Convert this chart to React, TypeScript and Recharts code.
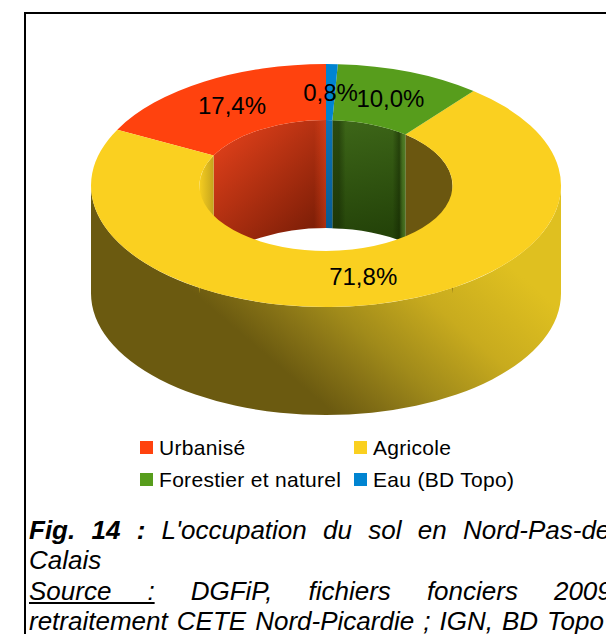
import { Legend, Pie, PieChart } from "recharts";

const categories = ["Urbanisé", "Agricole", "Forestier et naturel", "Eau (BD Topo)"];
const shares = [17.4, 71.8, 10.0, 0.8];
const topColors = ["#ff420e", "#fad020", "#579d1c", "#0084d1"];
const innerWallFills = ["url(#wallRed)", "url(#wallYellowIn)", "url(#wallGreen)", "url(#wallBlue)"];
const innerWallEdges = ["url(#edgeRed)", "none", "url(#edgeGreen)", "none"];

const chartData = categories.map((name, i) => ({ name, value: shares[i] }));

const CX = 326;
const CY = 185.5;
const OUTER = 235;
const INNER = 126.5;
const SQUASH = 0.517;
const DEPTH = 108;
const FONT = "'Liberation Sans', Arial, sans-serif";

const rad = (deg: number) => (deg * Math.PI) / 180;
const ptX = (r: number, a: number) => CX + r * Math.cos(rad(a));
const ptY = (r: number, a: number, dy = 0) => CY + dy - SQUASH * r * Math.sin(rad(a));

// band between two elliptical arcs, a1 < a2, counter clockwise on screen
function arcTo(r: number, from: number, to: number, dy = 0) {
  const large = Math.abs(to - from) > 180 ? 1 : 0;
  const sweep = to > from ? 0 : 1;
  return `A ${r} ${r * SQUASH} 0 ${large} ${sweep} ${ptX(r, to)} ${ptY(r, to, dy)}`;
}

function wallPath(r: number, a1: number, a2: number) {
  return [
    `M ${ptX(r, a1)} ${ptY(r, a1)}`,
    arcTo(r, a1, a2),
    `L ${ptX(r, a2)} ${ptY(r, a2, DEPTH)}`,
    arcTo(r, a2, a1, DEPTH),
    "Z",
  ].join(" ");
}

function overlap(a1: number, a2: number, lo: number, hi: number): [number, number][] {
  const out: [number, number][] = [];
  for (const shift of [-360, 0, 360]) {
    const s = Math.max(a1, lo + shift);
    const e = Math.min(a2, hi + shift);
    if (e > s) out.push([s, e]);
  }
  return out;
}

function WallShape(props: any) {
  const { startAngle, endAngle, name } = props;
  const a1 = Math.min(startAngle, endAngle);
  const a2 = Math.max(startAngle, endAngle);
  const idx = categories.indexOf(name);
  return (
    <g>
      {overlap(a1, a2, 180, 360).map(([s, e]) => (
        <path key={`o${s}`} d={wallPath(OUTER, s, e)} fill="url(#wallYellowOut)" />
      ))}
      {overlap(a1, a2, 0, 180).map(([s, e]) => (
        <g key={`i${s}`}>
          <path d={wallPath(INNER, s, e)} fill={innerWallFills[idx]} />
          <path d={wallPath(INNER, s, e)} fill={innerWallEdges[idx]} />
        </g>
      ))}
    </g>
  );
}

function TopShape(props: any) {
  const { startAngle, endAngle, name } = props;
  const a1 = Math.min(startAngle, endAngle);
  const a2 = Math.max(startAngle, endAngle);
  const d = [
    `M ${ptX(OUTER, a1)} ${ptY(OUTER, a1)}`,
    arcTo(OUTER, a1, a2),
    `L ${ptX(INNER, a2)} ${ptY(INNER, a2)}`,
    arcTo(INNER, a2, a1),
    "Z",
  ].join(" ");
  return <path d={d} fill={topColors[categories.indexOf(name)]} />;
}

function renderLabel(props: any) {
  const { midAngle, value } = props;
  const r = (OUTER + INNER) / 2;
  return (
    <text
      x={ptX(r, midAngle)}
      y={ptY(r, midAngle)}
      textAnchor="middle"
      dominantBaseline="central"
      fontFamily={FONT}
      fontSize={24}
      fill="#000"
    >
      {`${value.toFixed(1).replace(".", ",")}%`}
    </text>
  );
}

function renderLegend() {
  return (
    <div
      style={{
        position: "absolute",
        left: 140,
        top: 432,
        display: "grid",
        gridTemplateColumns: "214px auto",
        rowGap: 0,
        fontFamily: FONT,
        fontSize: 21,
        letterSpacing: 0.3,
        lineHeight: "31.5px",
        color: "#000",
      }}
    >
      {categories.map((name, i) => (
        <div key={name} style={{ display: "flex", alignItems: "center", whiteSpace: "nowrap" }}>
          <span
            style={{
              width: 13,
              height: 13,
              marginRight: 6,
              background: topColors[i],
              display: "inline-block",
            }}
          />
          {name}
        </div>
      ))}
    </div>
  );
}

const captionLine = {
  position: "absolute" as const,
  left: 29,
  width: 590,
  fontFamily: FONT,
  fontStyle: "italic",
  fontSize: 26,
  lineHeight: "30px",
  whiteSpace: "nowrap" as const,
  textAlign: "justify" as const,
  textAlignLast: "justify" as const,
  color: "#000",
};

export default function App() {
  return (
    <div
      style={{
        position: "absolute",
        left: 0,
        top: 0,
        width: 606,
        height: 634,
        overflow: "hidden",
        background: "#fff",
      }}
    >
      <div style={{ position: "absolute", left: 24, top: 12, right: 0, height: 2, background: "#000" }} />
      <div style={{ position: "absolute", left: 24, top: 12, bottom: 0, width: 1.5, background: "#000" }} />

      <PieChart width={606} height={634} style={{ position: "absolute", left: 0, top: 0 }}>
        <defs>
          <linearGradient id="wallYellowOut" gradientUnits="userSpaceOnUse" x1={260} y1={350} x2={407} y2={178}>
            <stop offset="0" stopColor="#6b5a10" />
            <stop offset="0.18" stopColor="#867216" />
            <stop offset="0.35" stopColor="#a08a1a" />
            <stop offset="0.65" stopColor="#c8ab1e" />
            <stop offset="1" stopColor="#dfc020" />
          </linearGradient>
          <linearGradient id="wallYellowIn" gradientUnits="userSpaceOnUse" x1={200} y1={0} x2={453} y2={0}>
            <stop offset="0" stopColor="#f4cc20" />
            <stop offset="0.055" stopColor="#c4a41d" />
            <stop offset="0.056" stopColor="#6b5710" />
            <stop offset="1" stopColor="#6b5710" />
          </linearGradient>
          <linearGradient id="wallRed" gradientUnits="userSpaceOnUse" x1={225} y1={130} x2={325} y2={235}>
            <stop offset="0" stopColor="#e0401a" />
            <stop offset="1" stopColor="#741b05" />
          </linearGradient>
          <linearGradient id="edgeRed" gradientUnits="userSpaceOnUse" x1={314} y1={0} x2={326} y2={0}>
            <stop offset="0" stopColor="#ff5020" stopOpacity={0} />
            <stop offset="1" stopColor="#ff5020" stopOpacity={0.4} />
          </linearGradient>
          <linearGradient id="wallGreen" gradientUnits="userSpaceOnUse" x1={350} y1={120} x2={370} y2={235}>
            <stop offset="0" stopColor="#3d6618" />
            <stop offset="1" stopColor="#244309" />
          </linearGradient>
          <linearGradient id="edgeGreen" gradientUnits="userSpaceOnUse" x1={339} y1={0} x2={406} y2={0}>
            <stop offset="0" stopColor="#102000" stopOpacity={0.4} />
            <stop offset="0.1" stopColor="#102000" stopOpacity={0} />
            <stop offset="0.8" stopColor="#102000" stopOpacity={0} />
            <stop offset="0.9" stopColor="#102000" stopOpacity={0.45} />
            <stop offset="0.95" stopColor="#6a9c38" stopOpacity={0.35} />
            <stop offset="1" stopColor="#6a9c38" stopOpacity={0.6} />
          </linearGradient>
          <linearGradient id="wallBlue" gradientUnits="userSpaceOnUse" x1={0} y1={120} x2={0} y2={230}>
            <stop offset="0" stopColor="#0a74b8" />
            <stop offset="1" stopColor="#095a90" />
          </linearGradient>
        </defs>
        <Pie
          data={chartData}
          dataKey="value"
          nameKey="name"
          cx={CX}
          cy={CY}
          innerRadius={INNER}
          outerRadius={OUTER}
          startAngle={90}
          endAngle={450}
          shape={WallShape}
          inactiveShape={WallShape}
          legendType="none"
          stroke="none"
          isAnimationActive={false}
        />
        <Pie
          data={chartData}
          dataKey="value"
          nameKey="name"
          cx={CX}
          cy={CY}
          innerRadius={INNER}
          outerRadius={OUTER}
          startAngle={90}
          endAngle={450}
          shape={TopShape}
          inactiveShape={TopShape}
          label={renderLabel}
          labelLine={false}
          stroke="none"
          isAnimationActive={false}
        />
        <Legend content={renderLegend} wrapperStyle={{ left: 0, top: 0, width: 606, height: 0 }} />
      </PieChart>

      <div style={{ ...captionLine, top: 515 }}>
        <b>Fig. 14 :</b> L'occupation du sol en Nord-Pas-de-
      </div>
      <div style={{ ...captionLine, top: 545, textAlignLast: "left" }}>Calais</div>
      <div style={{ ...captionLine, top: 576 }}>
        <u>Source :</u> DGFiP, fichiers fonciers 2009,
      </div>
      <div style={{ ...captionLine, top: 606, width: 575 }}>
        retraitement CETE Nord-Picardie ; IGN, BD Topo
      </div>
    </div>
  );
}
